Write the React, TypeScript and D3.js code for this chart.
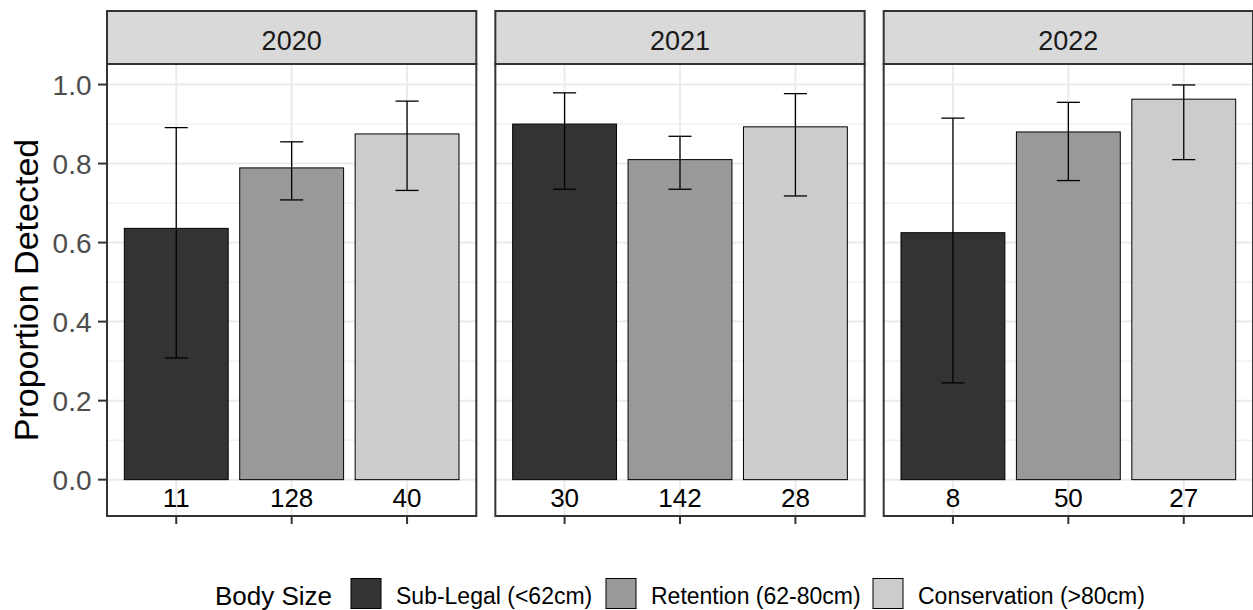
import React from 'react';
import * as d3 from 'd3';

const years = ['2020', '2021', '2022'];
const sizeClasses = ['Sub-Legal (<62cm)', 'Retention (62-80cm)', 'Conservation (>80cm)'];
const classColors = ['#333333', '#999999', '#CCCCCC'];

// proportion detected, by year (rows) and body size (columns)
const proportionDetected = [
  [0.636, 0.789, 0.875],
  [0.900, 0.810, 0.893],
  [0.625, 0.880, 0.963],
];
const ciLower = [
  [0.308, 0.708, 0.732],
  [0.735, 0.735, 0.718],
  [0.245, 0.757, 0.810],
];
const ciUpper = [
  [0.891, 0.855, 0.958],
  [0.979, 0.869, 0.977],
  [0.915, 0.955, 0.999],
];
const sampleSize = [
  [11, 128, 40],
  [30, 142, 28],
  [8, 50, 27],
];
const yTicks = [0, 0.2, 0.4, 0.6, 0.8, 1.0];
const yMinor = [0.1, 0.3, 0.5, 0.7, 0.9];
const labelY = -0.04;

const W = 1253;
const H = 610;
const panelTop = 64;
const panelBottom = 516;
const stripTop = 11;
const font = 'Liberation Sans, Arial, sans-serif';

export default function App() {
  const facet = d3.scaleBand<string>().domain(years).range([107, 1253]).paddingInner(0.049);
  const pw = facet.bandwidth();
  const x = d3.scaleBand<string>().domain(sizeClasses).range([0, pw]).paddingInner(0).paddingOuter(0.1);
  const step = x.step();
  const barW = step * 0.9;
  const capW = step * 0.2;
  const lo = labelY, hi = 1.0;
  const pad = (hi - lo) * 0.05;
  const y = d3.scaleLinear().domain([lo - pad, hi + pad]).range([panelBottom, panelTop]);
  const fmt = d3.format('.1f');

  const legendKeys = [351, 606, 873];

  return (
    <svg width={W} height={H} style={{ position: 'absolute', left: 0, top: 0, background: '#fff' }} fontFamily={font}>
      {/* y axis */}
      <text transform={`translate(37.5,${(panelTop + panelBottom) / 2}) rotate(-90)`} textAnchor="middle" fontSize={34} fill="#000">
        Proportion Detected
      </text>
      {yTicks.map(t => (
        <g key={t}>
          <line x1={98} x2={107} y1={y(t)} y2={y(t)} stroke="#333333" strokeWidth={2} />
          <text x={91.5} y={y(t)} dy="0.36em" textAnchor="end" fontSize={28} fill="#4D4D4D">{fmt(t)}</text>
        </g>
      ))}

      {years.map((yr, fi) => {
        const px = facet(yr)!;
        return (
          <g key={yr}>
            <rect x={px} y={panelTop} width={pw} height={panelBottom - panelTop} fill="#fff" />
            {yMinor.map(t => (
              <line key={t} x1={px} x2={px + pw} y1={y(t)} y2={y(t)} stroke="#EBEBEB" strokeWidth={1} />
            ))}
            {yTicks.map(t => (
              <line key={t} x1={px} x2={px + pw} y1={y(t)} y2={y(t)} stroke="#EBEBEB" strokeWidth={2} />
            ))}
            {sizeClasses.map(c => {
              const cx = px + x(c)! + step / 2;
              return <line key={c} x1={cx} x2={cx} y1={panelTop} y2={panelBottom} stroke="#EBEBEB" strokeWidth={2} />;
            })}
            {sizeClasses.map((c, ci) => {
              const cx = px + x(c)! + step / 2;
              const v = proportionDetected[fi][ci];
              return (
                <g key={c}>
                  <rect x={cx - barW / 2} y={y(v)} width={barW} height={y(0) - y(v)} fill={classColors[ci]} stroke="#000" strokeWidth={1} />
                  <line x1={cx} x2={cx} y1={y(ciUpper[fi][ci])} y2={y(ciLower[fi][ci])} stroke="#000" strokeWidth={1.3} />
                  <line x1={cx - capW / 2} x2={cx + capW / 2} y1={y(ciUpper[fi][ci])} y2={y(ciUpper[fi][ci])} stroke="#000" strokeWidth={1.3} />
                  <line x1={cx - capW / 2} x2={cx + capW / 2} y1={y(ciLower[fi][ci])} y2={y(ciLower[fi][ci])} stroke="#000" strokeWidth={1.3} />
                  <text x={cx} y={y(labelY)} dy="0.45em" textAnchor="middle" fontSize={26} fill="#000">{sampleSize[fi][ci]}</text>
                  <line x1={cx} x2={cx} y1={panelBottom} y2={panelBottom + 8} stroke="#333333" strokeWidth={2} />
                </g>
              );
            })}
            <rect x={px} y={panelTop} width={pw} height={panelBottom - panelTop} fill="none" stroke="#333333" strokeWidth={2} />
            <rect x={px} y={stripTop} width={pw} height={panelTop - stripTop} fill="#D9D9D9" stroke="#333333" strokeWidth={2} />
            <text x={px + pw / 2} y={50} textAnchor="middle" fontSize={27} fill="#1A1A1A">{yr}</text>
          </g>
        );
      })}

      {/* legend */}
      <text x={215} y={604.5} fontSize={26} fill="#000">Body Size</text>
      {sizeClasses.map((c, i) => (
        <g key={c}>
          <rect x={legendKeys[i]} y={578.5} width={30} height={30} fill={classColors[i]} stroke="#000" strokeWidth={1} />
          <text x={legendKeys[i] + 45} y={604} fontSize={23} fill="#000">{c}</text>
        </g>
      ))}
    </svg>
  );
}
